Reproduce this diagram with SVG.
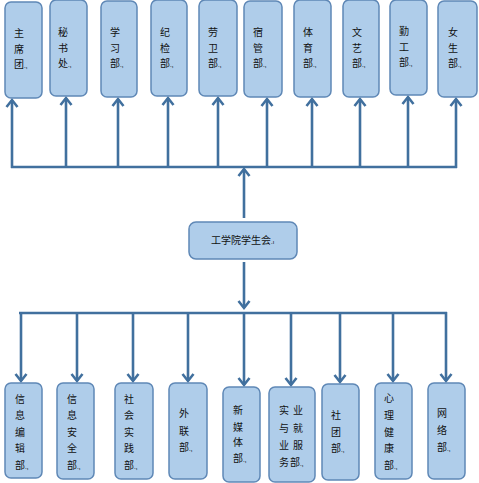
<svg xmlns="http://www.w3.org/2000/svg" width="479" height="483" viewBox="0 0 479 483">
<style>
.box{fill:#afcdea;stroke:#5f88b6;stroke-width:1.5}
.t{font-family:"Noto Sans CJK SC","Noto Sans",sans-serif;font-size:10px;fill:#111}
.m{font-size:6px}
.c{fill:none;stroke:#41709e;stroke-width:2.6}
</style>
<defs>
<marker id="ah" markerUnits="userSpaceOnUse" markerWidth="14" markerHeight="14" refX="9" refY="6" orient="auto" overflow="visible">
<path d="M2,0.5 L9,6 L2,11.5" fill="none" stroke="#41709e" stroke-width="2.6" stroke-linejoin="miter"/>
</marker>
</defs>
<g id="connectors" class="c">
<line x1="11" y1="167" x2="457" y2="167"/>
<line x1="12" y1="168" x2="12" y2="100" marker-end="url(#ah)"/>
<line x1="66" y1="167" x2="66" y2="98" marker-end="url(#ah)"/>
<line x1="118" y1="167" x2="118" y2="99" marker-end="url(#ah)"/>
<line x1="168" y1="167" x2="168" y2="98" marker-end="url(#ah)"/>
<line x1="218" y1="167" x2="218" y2="98" marker-end="url(#ah)"/>
<line x1="267" y1="167" x2="267" y2="99" marker-end="url(#ah)"/>
<line x1="312" y1="167" x2="312" y2="99" marker-end="url(#ah)"/>
<line x1="360" y1="167" x2="360" y2="99" marker-end="url(#ah)"/>
<line x1="408" y1="167" x2="408" y2="97" marker-end="url(#ah)"/>
<line x1="456" y1="168" x2="456" y2="99" marker-end="url(#ah)"/>
<line x1="244" y1="218" x2="244" y2="169" marker-end="url(#ah)"/>
<line x1="244" y1="262" x2="244" y2="308" marker-end="url(#ah)"/>
<line x1="19" y1="313" x2="447" y2="313"/>
<line x1="21" y1="312" x2="21" y2="381" marker-end="url(#ah)"/>
<line x1="77" y1="313" x2="77" y2="381" marker-end="url(#ah)"/>
<line x1="133" y1="313" x2="133" y2="381" marker-end="url(#ah)"/>
<line x1="188" y1="313" x2="188" y2="381" marker-end="url(#ah)"/>
<line x1="244" y1="313" x2="244" y2="385" marker-end="url(#ah)"/>
<line x1="291" y1="313" x2="291" y2="385" marker-end="url(#ah)"/>
<line x1="340" y1="313" x2="340" y2="382" marker-end="url(#ah)"/>
<line x1="393" y1="313" x2="393" y2="381" marker-end="url(#ah)"/>
<line x1="446" y1="312" x2="446" y2="381" marker-end="url(#ah)"/>
</g>
<g id="center"><rect class="box" x="189" y="222" width="108" height="37" rx="7"/><text class="t" x="211" y="244">工学院学生会<tspan class="m">.ı</tspan></text></g>
<g id="n1"><rect class="box" x="5" y="2" width="37" height="96" rx="6"/><text class="t"><tspan x="14" y="37">主</tspan><tspan x="14" y="53">席</tspan><tspan x="14" y="68">团</tspan><tspan class="m">.,</tspan></text></g>
<g id="n2"><rect class="box" x="50" y="0" width="37" height="96" rx="6"/><text class="t"><tspan x="58" y="36">秘</tspan><tspan x="58" y="52">书</tspan><tspan x="58" y="67">处</tspan><tspan class="m">.,</tspan></text></g>
<g id="n3"><rect class="box" x="101" y="1" width="36" height="96" rx="6"/><text class="t"><tspan x="110" y="36">学</tspan><tspan x="110" y="52">习</tspan><tspan x="110" y="67">部</tspan><tspan class="m">.,</tspan></text></g>
<g id="n4"><rect class="box" x="151" y="0" width="36" height="96" rx="6"/><text class="t"><tspan x="160" y="36">纪</tspan><tspan x="160" y="52">检</tspan><tspan x="160" y="67">部</tspan><tspan class="m">.,</tspan></text></g>
<g id="n5"><rect class="box" x="199" y="0" width="38" height="96" rx="6"/><text class="t"><tspan x="208" y="36">劳</tspan><tspan x="208" y="52">卫</tspan><tspan x="208" y="67">部</tspan><tspan class="m">.,</tspan></text></g>
<g id="n6"><rect class="box" x="244" y="1" width="38" height="96" rx="6"/><text class="t"><tspan x="253" y="36">宿</tspan><tspan x="253" y="52">管</tspan><tspan x="253" y="67">部</tspan><tspan class="m">.,</tspan></text></g>
<g id="n7"><rect class="box" x="294" y="0" width="37" height="97" rx="6"/><text class="t"><tspan x="303" y="36">体</tspan><tspan x="303" y="52">育</tspan><tspan x="303" y="67">部</tspan><tspan class="m">.,</tspan></text></g>
<g id="n8"><rect class="box" x="343" y="0" width="36" height="97" rx="6"/><text class="t"><tspan x="352" y="36">文</tspan><tspan x="352" y="52">艺</tspan><tspan x="352" y="67">部</tspan><tspan class="m">.,</tspan></text></g>
<g id="n9"><rect class="box" x="390" y="0" width="37" height="95" rx="6"/><text class="t"><tspan x="399" y="35">勤</tspan><tspan x="399" y="51">工</tspan><tspan x="399" y="66">部</tspan><tspan class="m">.,</tspan></text></g>
<g id="n10"><rect class="box" x="438" y="1" width="39" height="96" rx="6"/><text class="t"><tspan x="448" y="36">女</tspan><tspan x="448" y="52">生</tspan><tspan x="448" y="67">部</tspan><tspan class="m">.,</tspan></text></g>
<g id="b1"><rect class="box" x="5" y="383" width="37" height="95" rx="6"/><text class="t"><tspan x="15" y="403">信</tspan><tspan x="15" y="419">息</tspan><tspan x="15" y="436">编</tspan><tspan x="15" y="452">辑</tspan><tspan x="15" y="469">部</tspan><tspan class="m">.,</tspan></text></g>
<g id="b2"><rect class="box" x="57" y="383" width="37" height="96" rx="6"/><text class="t"><tspan x="67" y="403">信</tspan><tspan x="67" y="419">息</tspan><tspan x="67" y="436">安</tspan><tspan x="67" y="452">全</tspan><tspan x="67" y="469">部</tspan><tspan class="m">.,</tspan></text></g>
<g id="b3"><rect class="box" x="115" y="383" width="38" height="96" rx="6"/><text class="t"><tspan x="124" y="403">社</tspan><tspan x="124" y="419">会</tspan><tspan x="124" y="436">实</tspan><tspan x="124" y="452">践</tspan><tspan x="124" y="469">部</tspan><tspan class="m">.,</tspan></text></g>
<g id="b4"><rect class="box" x="169" y="383" width="38" height="96" rx="6"/><text class="t"><tspan x="179" y="417">外</tspan><tspan x="179" y="435">联</tspan><tspan x="179" y="451">部</tspan><tspan class="m">.,</tspan></text></g>
<g id="b5"><rect class="box" x="223" y="387" width="37" height="95" rx="6"/><text class="t"><tspan x="233" y="414">新</tspan><tspan x="233" y="431">媒</tspan><tspan x="233" y="446">体</tspan><tspan x="233" y="462">部</tspan><tspan class="m">.,</tspan></text></g>
<g id="b6"><rect class="box" x="269" y="387" width="46" height="95" rx="6"/><text class="t"><tspan x="279" y="414">实</tspan><tspan x="293" y="414">业</tspan><tspan x="279" y="432">与</tspan><tspan x="293" y="432">就</tspan><tspan x="279" y="449">业</tspan><tspan x="293" y="449">服</tspan><tspan x="279" y="466">务</tspan><tspan x="290" y="466">部</tspan><tspan class="m">.,</tspan></text></g>
<g id="b7"><rect class="box" x="322" y="384" width="37" height="96" rx="6"/><text class="t"><tspan x="331" y="419">社</tspan><tspan x="331" y="436">团</tspan><tspan x="331" y="452">部</tspan><tspan class="m">.,</tspan></text></g>
<g id="b8"><rect class="box" x="375" y="383" width="37" height="96" rx="6"/><text class="t"><tspan x="384" y="402">心</tspan><tspan x="384" y="419">理</tspan><tspan x="384" y="436">健</tspan><tspan x="384" y="452">康</tspan><tspan x="384" y="469">部</tspan><tspan class="m">.,</tspan></text></g>
<g id="b9"><rect class="box" x="428" y="383" width="37" height="96" rx="6"/><text class="t"><tspan x="437" y="417">网</tspan><tspan x="437" y="434">络</tspan><tspan x="437" y="451">部</tspan><tspan class="m">.,</tspan></text></g>
</svg>
